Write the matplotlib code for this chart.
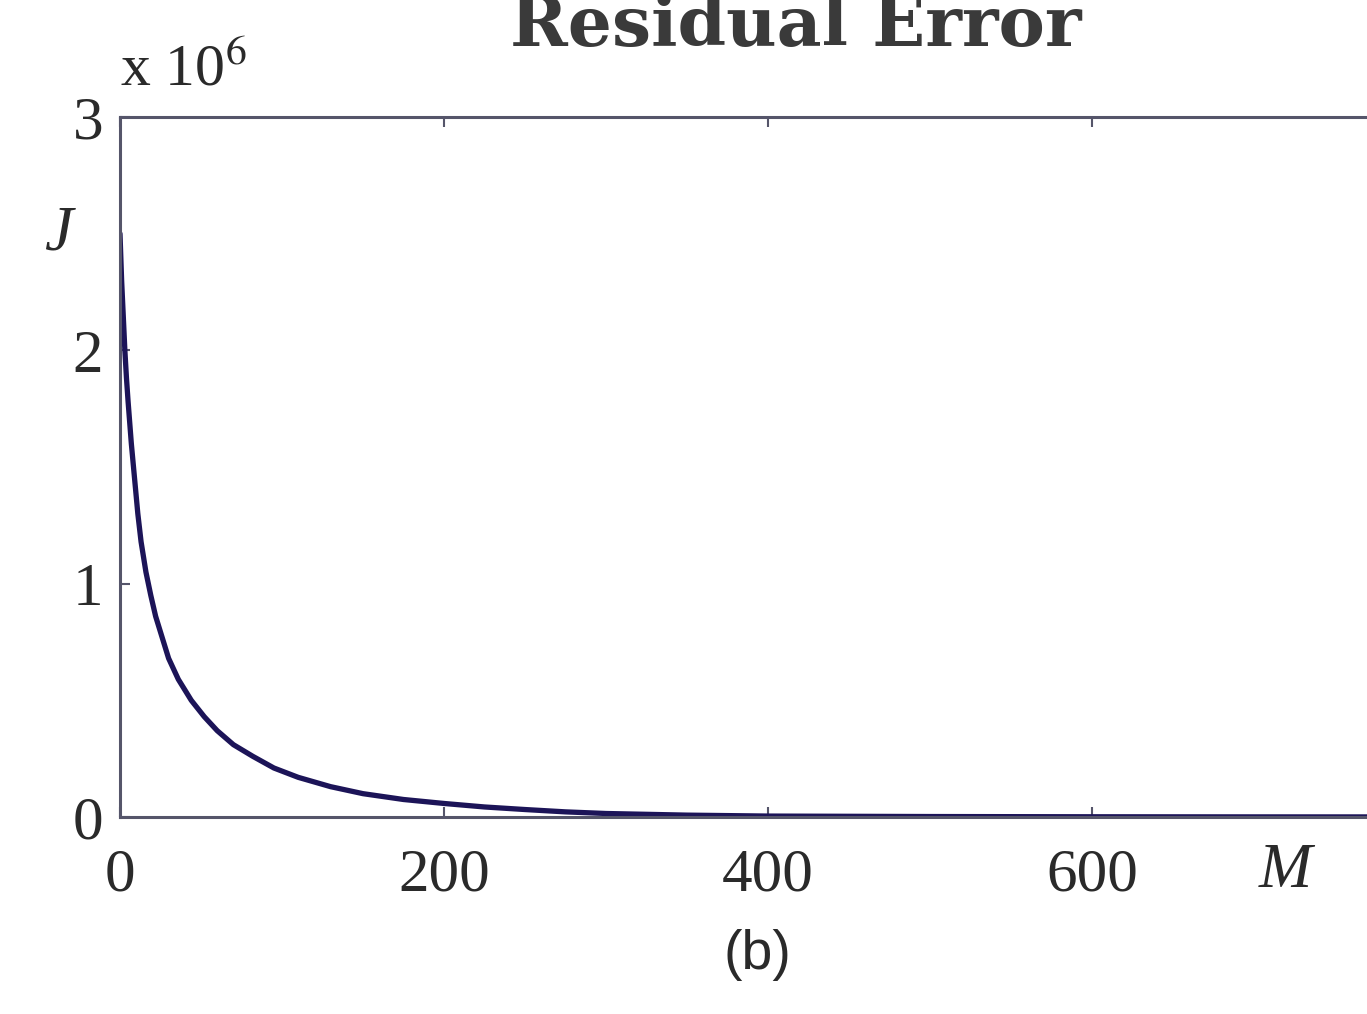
import matplotlib
matplotlib.use("Agg")
from matplotlib import pyplot as plt

# residual error J (in 1e6) against M
m_vals = [0, 1, 2, 3, 4, 5, 7, 9, 11, 13, 16, 19, 22, 26, 30, 36, 44, 52, 60, 70, 82,
          95, 110, 130, 150, 175, 200, 225, 250, 275, 300, 350, 400, 500, 600, 700, 800]
j_vals = [2.5, 2.3, 2.15, 2.0, 1.88, 1.78, 1.6, 1.45, 1.3, 1.18, 1.05, 0.95, 0.86, 0.77,
          0.68, 0.59, 0.50, 0.43, 0.37, 0.31, 0.26, 0.21, 0.17, 0.13, 0.10, 0.075, 0.058,
          0.043, 0.032, 0.022, 0.015, 0.008, 0.004, 0.002, 0.001, 0.0005, 0.0003]
x_ticks = [0, 200, 400, 600]
y_ticks = [0, 1, 2, 3]

fig = plt.figure(figsize=(13.67, 10.14), dpi=100)
ax = fig.add_axes([120 / 1367, 1 - 817 / 1014, 1296 / 1367, 700 / 1014])

ax.plot(m_vals, j_vals, color="#1c1458", lw=3.8, solid_capstyle="round",
        solid_joinstyle="round")
ax.set_xlim(0, 800)
ax.set_ylim(0, 3)
ax.set_xticks(x_ticks)
ax.set_yticks(y_ticks)

axis_col = "#55556a"
for s in ax.spines.values():
    s.set_color(axis_col)
    s.set_linewidth(2.2)
ax.tick_params(direction="in", length=7, width=1.5, colors=axis_col,
               top=True, right=True, labelcolor="#2a2a2a")
ax.tick_params(axis="x", pad=22)
ax.tick_params(axis="y", pad=12)
for lab in ax.get_xticklabels() + ax.get_yticklabels():
    lab.set_family("Liberation Serif")
    lab.set_fontsize(44)

fig.text(120 / 1367, 1 - 85 / 1014, r"x 10$^6$", family="Liberation Serif",
         fontsize=43, color="#2a2a2a", math_fontfamily="stix")
fig.text(58 / 1367, 1 - 235 / 1014, "J", family="Liberation Serif", style="italic",
         fontsize=46, color="#2a2a2a", ha="center", va="center")
fig.text(1285 / 1367, 1 - 872 / 1014, "M", family="Liberation Serif", style="italic",
         fontsize=46, color="#2a2a2a", ha="center", va="center")
fig.text(757 / 1367, 1 - 955 / 1014, "(b)", family="Liberation Sans",
         fontsize=40, color="#2a2a2a", ha="center", va="center")
fig.text(796 / 1367, 1 - 46 / 1014, "Residual Error", family="DejaVu Serif",
         weight="bold", fontsize=50, color="#3a3a3a", ha="center", va="baseline")

fig.savefig("out.png", dpi=100)
